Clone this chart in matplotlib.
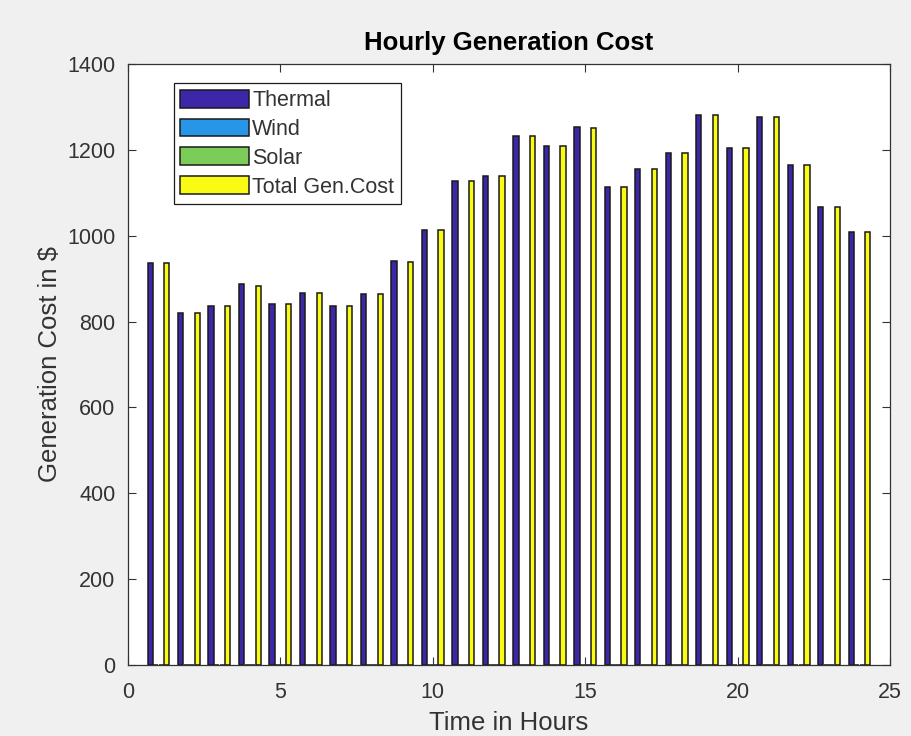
import matplotlib.pyplot as plt
import numpy as np

plt.rcParams['font.family'] = ['Liberation Sans', 'DejaVu Sans']

# hourly costs
hours = list(range(1, 25))
thermal = [936, 821, 837, 887, 842, 866, 837, 865, 940, 1013, 1127, 1140,
           1233, 1209, 1254, 1113, 1156, 1192, 1281, 1205, 1277, 1164, 1066, 1009]
wind = [0] * 24
solar = [0] * 24
total = [936, 821, 837, 884, 842, 866, 837, 865, 938, 1013, 1127, 1140,
         1233, 1208, 1252, 1114, 1156, 1192, 1282, 1205, 1277, 1164, 1066, 1009]

series = [thermal, wind, solar, total]
names = ["Thermal", "Wind", "Solar", "Total Gen.Cost"]
colors = ["#3E26A8", "#2896E6", "#7CCC5A", "#F9FB15"]

fig = plt.figure(figsize=(9.11, 7.36), dpi=100, facecolor='#f0f0f0')
ax = fig.add_axes([128/911, 1-665/736, 762/911, 601/736])

# matlab style grouped bars
n = len(series)
gw = min(0.8, n/(n+1.5))
step = gw/n
x = np.array(hours)
for i, (vals, nm, c) in enumerate(zip(series, names, colors)):
    off = (i - (n-1)/2) * step
    ax.bar(x + off, vals, width=step*0.95, color=c, edgecolor='#1a1a1a',
           linewidth=1.1, label=nm)

ax.set_xlim(0, 25)
ax.set_ylim(0, 1400)
ax.set_xticks(range(0, 26, 5))
ax.set_yticks(range(0, 1401, 200))
ax.tick_params(direction='in', top=True, right=True, labelsize=15.5,
               colors='#333333', length=6)
ax.tick_params(axis='x', pad=12)
ax.tick_params(axis='y', pad=9)
for s in ax.spines.values():
    s.set_color('#333333')
    s.set_linewidth(0.9)

ax.set_xlabel("Time in Hours", fontsize=18.5, color='#333333', labelpad=6)
ax.set_ylabel("Generation Cost in $", fontsize=18.5, color='#333333', labelpad=4)
ax.set_title("Hourly Generation Cost", fontsize=18.5, fontweight='bold', pad=10)

leg = ax.legend(loc='upper left', bbox_to_anchor=(0.06, 0.968), fontsize=15.5,
                fancybox=False, edgecolor='#1a1a1a', framealpha=1,
                handlelength=3.2, handleheight=0.9, handletextpad=0.15,
                labelspacing=0.35, borderpad=0.3, borderaxespad=0)
leg.get_frame().set_linewidth(0.9)
for t in leg.get_texts():
    t.set_color('#333333')

fig.savefig("out.png", dpi=100, facecolor=fig.get_facecolor())
